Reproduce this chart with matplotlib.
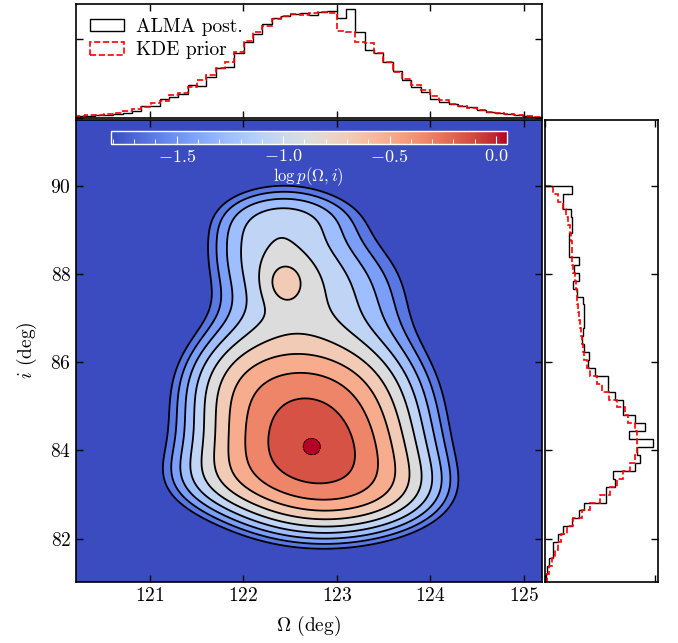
import numpy as np
import matplotlib
matplotlib.use("Agg")
import matplotlib.pyplot as plt
from matplotlib.colors import Normalize
from matplotlib.cm import ScalarMappable
from matplotlib.patches import Patch
from matplotlib.ticker import MultipleLocator

plt.rcParams["font.family"] = "serif"
plt.rcParams["font.serif"] = ["cmr10"]
plt.rcParams["mathtext.fontset"] = "cm"
plt.rcParams["axes.formatter.use_mathtext"] = True

# ---- marginal histograms (density) ----
om_edges = np.linspace(120.21, 125.19, 51)
om_post = [0.010, 0.012, 0.013, 0.015, 0.020, 0.027, 0.037, 0.061, 0.061, 0.098,
           0.108, 0.121, 0.167, 0.162, 0.206, 0.251, 0.260, 0.327, 0.386, 0.425,
           0.476, 0.504, 0.518, 0.526, 0.533, 0.521, 0.536, 0.542, 0.504, 0.550,
           0.437, 0.344, 0.327, 0.285, 0.240, 0.192, 0.155, 0.133, 0.096, 0.083,
           0.071, 0.061, 0.054, 0.040, 0.032, 0.027, 0.020, 0.015, 0.010, 0.007]
om_prior = [0.010, 0.013, 0.017, 0.022, 0.027, 0.035, 0.046, 0.057, 0.074, 0.088,
            0.116, 0.128, 0.155, 0.192, 0.218, 0.251, 0.285, 0.336, 0.391, 0.435,
            0.466, 0.499, 0.516, 0.526, 0.523, 0.530, 0.536, 0.533, 0.442, 0.437,
            0.386, 0.378, 0.327, 0.285, 0.234, 0.196, 0.167, 0.142, 0.113, 0.091,
            0.071, 0.061, 0.049, 0.040, 0.032, 0.025, 0.020, 0.015, 0.010, 0.007]

inc_edges = np.linspace(81.02, 90.0, 51)
inc_post = [0.003, 0.006, 0.012, 0.021, 0.023, 0.036, 0.050, 0.073, 0.094, 0.105,
            0.166, 0.166, 0.191, 0.186, 0.245, 0.259, 0.250, 0.295, 0.230, 0.273,
            0.245, 0.212, 0.212, 0.191, 0.173, 0.173, 0.136, 0.118, 0.121, 0.105,
            0.100, 0.103, 0.105, 0.106, 0.106, 0.103, 0.088, 0.077, 0.094, 0.080,
            0.093, 0.065, 0.065, 0.065, 0.073, 0.075, 0.070, 0.050, 0.050, 0.075]
inc_prior = [0.006, 0.012, 0.018, 0.027, 0.036, 0.045, 0.059, 0.077, 0.100, 0.123,
             0.150, 0.177, 0.195, 0.212, 0.232, 0.245, 0.250, 0.250, 0.250, 0.245,
             0.227, 0.218, 0.195, 0.175, 0.155, 0.141, 0.123, 0.114, 0.105, 0.103,
             0.100, 0.097, 0.095, 0.093, 0.091, 0.088, 0.086, 0.084, 0.082, 0.077,
             0.075, 0.073, 0.073, 0.070, 0.068, 0.064, 0.057, 0.050, 0.036, 0.023]

# ---- joint density as a sum of gaussian bumps (centre, width, amplitude) ----
# main body stack, upper lobe + island, right/left shoulders, top, halo, side bumps, peak
comp_om = [122.85, 122.80, 122.72, 122.72, 122.75, 122.50, 122.44, 123.35, 121.90,
           122.55, 122.65, 121.85, 121.60, 123.70, 122.73]
comp_inc = [82.68, 83.43, 84.18, 84.93, 85.68, 88.00, 87.80, 87.50, 88.70,
            89.40, 85.50, 85.90, 83.30, 83.00, 84.08]
comp_om_w = [0.80, 0.80, 0.80, 0.80, 0.80, 0.50, 0.15, 0.55, 0.40,
             0.60, 1.30, 0.45, 0.50, 0.50, 0.085]
comp_inc_w = [0.78, 0.78, 0.78, 0.78, 0.78, 1.45, 0.35, 1.30, 0.90,
              0.45, 2.50, 1.00, 0.60, 0.60, 0.17]
comp_amp = [0.260, 0.370, 0.413, 0.288, 0.285, 0.306, 0.107, 0.182, 0.134,
            0.094, 0.050, 0.150, 0.103, 0.093, 0.090]

levels = [-1.717, -1.531, -1.345, -1.159, -0.973, -0.787, -0.601, -0.415, -0.229, -0.043]
cb_ticks = [-1.5, -1.0, -0.5, 0.0]

om_lim = (120.21, 125.19)
inc_lim = (81.02, 91.5)

om = np.linspace(om_lim[0], om_lim[1], 400)
inc = np.linspace(inc_lim[0], inc_lim[1], 400)
OM, INC = np.meshgrid(om, inc)
p = np.zeros_like(OM)
for c_o, c_i, w_o, w_i, a in zip(comp_om, comp_inc, comp_om_w, comp_inc_w, comp_amp):
    p += a * np.exp(-0.5 * (((OM - c_o) / w_o) ** 2 + ((INC - c_i) / w_i) ** 2))
logp = np.log(p / p.max())

cmap = plt.get_cmap("coolwarm")
norm = Normalize(vmin=-1.81, vmax=0.05)

fig = plt.figure(figsize=(6.78, 6.43), dpi=100)
ax = fig.add_axes([0.1121, 0.0953, 0.6869, 0.7188])
ax_top = fig.add_axes([0.1121, 0.8165, 0.6869, 0.1773])
ax_right = fig.add_axes([0.8038, 0.0953, 0.1667, 0.7188])

ax.contourf(OM, INC, logp, levels=[logp.min() - 1] + levels + [0.143], cmap=cmap, norm=norm)
ax.contour(OM, INC, logp, levels=levels[:-1], colors="k", linewidths=1.3,
           linestyles="solid")
ax.contour(OM, INC, logp, levels=levels[-1:], colors="k", linewidths=0.6,
           linestyles="dashed")
ax.set_xlim(om_lim)
ax.set_ylim(inc_lim)
ax.set_xticks([121, 122, 123, 124, 125])
ax.set_yticks([82, 84, 86, 88, 90])
ax.set_xlabel(r"$\Omega$ (deg)", fontsize=14, labelpad=7)
ax.set_ylabel(r"$i$ (deg)", fontsize=14, labelpad=8)

# colorbar inside the main panel
cax = fig.add_axes([0.1633, 0.7756, 0.584, 0.0212])
cb = fig.colorbar(ScalarMappable(norm=norm, cmap=cmap), cax=cax, orientation="horizontal")
cb.set_ticks(cb_ticks)
cb.ax.xaxis.set_minor_locator(MultipleLocator(0.1))
cb.outline.set_edgecolor("white")
cb.outline.set_linewidth(1.0)
cb.ax.tick_params(which="both", direction="in", colors="white", labelsize=13,
                  bottom=True, top=False, pad=3)
cb.ax.tick_params(which="major", length=6)
cb.ax.tick_params(which="minor", length=3.5)
cb.set_label(r"$\log p(\Omega, i)$", color="white", fontsize=12, labelpad=0)

# marginals
ax_top.stairs(om_post, om_edges, color="k", linewidth=1.0)
ax_top.stairs(om_prior, om_edges, color="red", linewidth=1.2, linestyle="--")
ax_top.set_xlim(om_lim)
ax_top.set_ylim(0, 0.577)
ax_top.set_xticks([121, 122, 123, 124, 125])
ax_top.set_yticks([0.0, 0.4])
ax_top.tick_params(labelbottom=False, labelleft=False)
handles = [Patch(facecolor="none", edgecolor="k", linewidth=1.0, label="ALMA post."),
           Patch(facecolor="none", edgecolor="red", linewidth=1.2, linestyle="--",
                 label="KDE prior")]
ax_top.legend(handles=handles, loc="upper left", frameon=False, fontsize=14,
              handlelength=1.75, handleheight=0.6, handletextpad=0.65,
              labelspacing=0.3, borderaxespad=0.3, borderpad=0.4)

ax_right.stairs(inc_post, inc_edges, orientation="horizontal", color="k", linewidth=1.0)
ax_right.stairs(inc_prior, inc_edges, orientation="horizontal", color="red",
                linewidth=1.2, linestyle="--")
ax_right.set_ylim(inc_lim)
ax_right.set_xlim(0, 0.308)
ax_right.set_yticks([82, 84, 86, 88, 90])
ax_right.set_xticks([0.0, 0.3])
ax_right.tick_params(labelbottom=False, labelleft=False)

for a in (ax, ax_top, ax_right):
    a.tick_params(which="both", direction="in", top=True, right=True,
                  length=5, width=1.0, labelsize=14)
    for s in a.spines.values():
        s.set_linewidth(1.2)

fig.savefig("out.png", dpi=100)
